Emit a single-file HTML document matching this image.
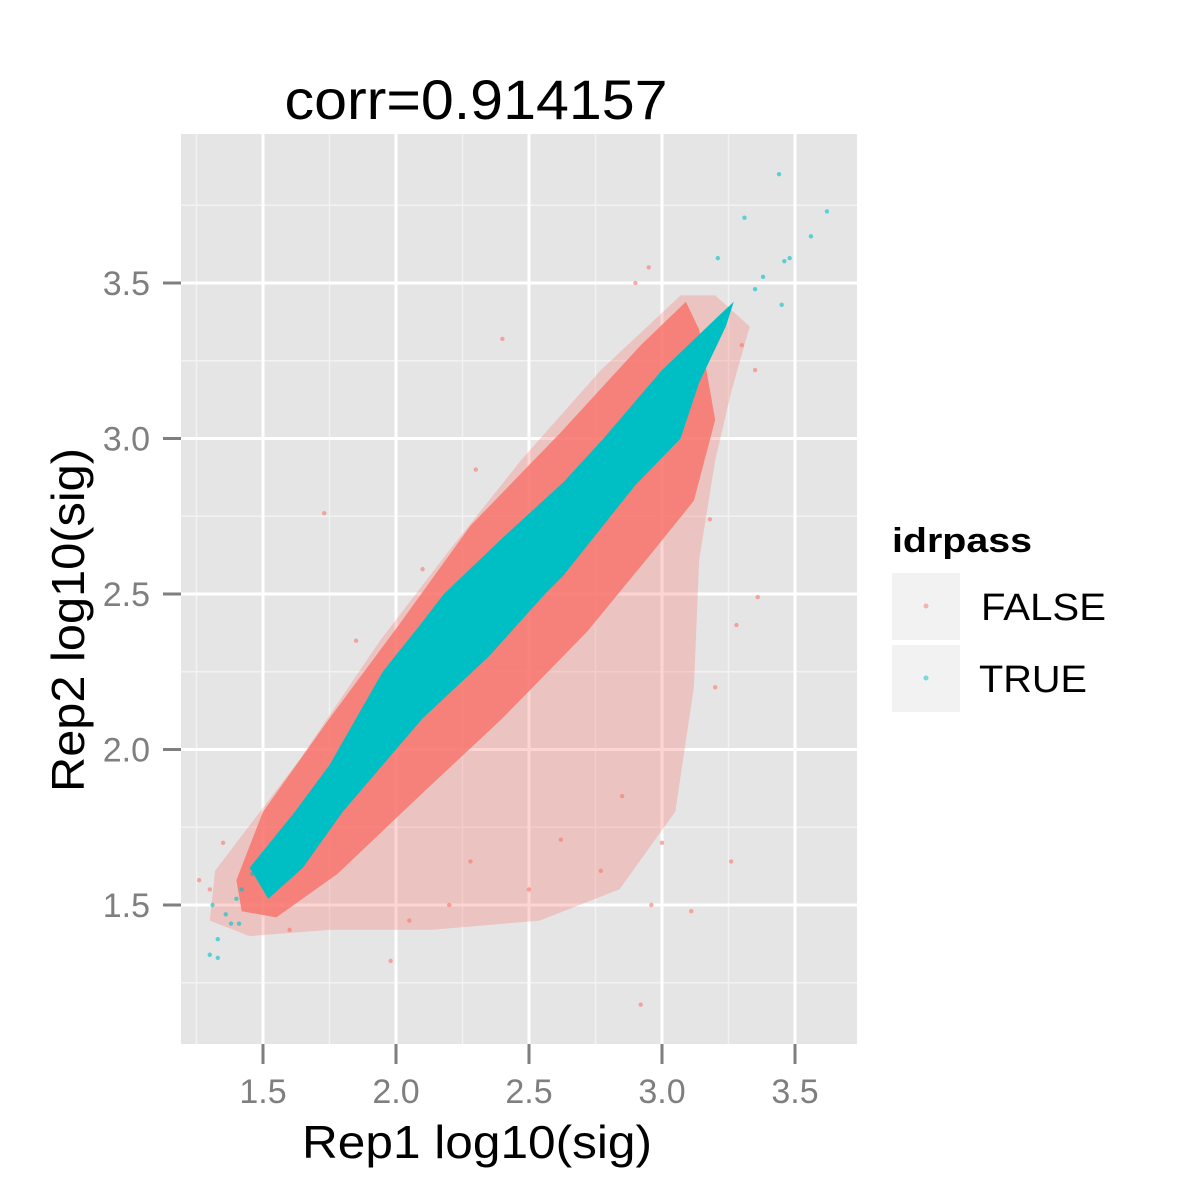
<!DOCTYPE html>
<html><head><meta charset="utf-8"><style>
html,body{margin:0;padding:0;background:#fff;}
svg{display:block;font-family:"Liberation Sans",sans-serif;}
</style></head><body>
<svg id="chart" width="1200" height="1200" viewBox="0 0 1200 1200" xmlns="http://www.w3.org/2000/svg">
<rect x="0" y="0" width="1200" height="1200" fill="#fff"/>
<g id="panel"></g>
<text x="476" y="119" font-size="56" text-anchor="middle" textLength="383" lengthAdjust="spacingAndGlyphs">corr=0.914157</text>
<text x="477" y="1158" font-size="46" text-anchor="middle" textLength="350" lengthAdjust="spacingAndGlyphs">Rep1 log10(sig)</text>
<text x="0" y="0" font-size="46" text-anchor="middle" textLength="344" lengthAdjust="spacingAndGlyphs" transform="translate(84,620) rotate(-90)">Rep2 log10(sig)</text>
<g>
<text x="892" y="552" font-size="34" font-weight="bold" textLength="140" lengthAdjust="spacingAndGlyphs">idrpass</text>
<g>
<rect x="892" y="573" width="68" height="67" fill="#f2f2f2"/>
<circle cx="926" cy="606" r="2.5" fill="#F8766D" opacity="0.5"/>
<text x="981" y="620" font-size="38" textLength="125" lengthAdjust="spacingAndGlyphs">FALSE</text>
</g>
<g>
<rect x="892" y="645" width="68" height="67" fill="#f2f2f2"/>
<circle cx="926" cy="678" r="2.5" fill="#00BFC4" opacity="0.5"/>
<text x="979" y="692" font-size="38" textLength="108" lengthAdjust="spacingAndGlyphs">TRUE</text>
</g>
</g>
</svg>
<script>
const xTicks=[1.5,2.0,2.5,3.0,3.5];
const yTicks=[1.5,2.0,2.5,3.0,3.5];
const xTickLabels=["1.5","2.0","2.5","3.0","3.5"];
const yTickLabels=["1.5","2.0","2.5","3.0","3.5"];
const xMinor=[1.25,1.75,2.25,2.75,3.25];
const yMinor=[1.25,1.75,2.25,2.75,3.25,3.75];
const falseSparse=[[1.32,1.61],[1.64,1.97],[1.94,2.35],[2.20,2.64],[2.47,2.93],[2.77,3.22],[3.07,3.46],[3.20,3.46],[3.33,3.36],[3.26,3.15],[3.20,2.93],[3.14,2.61],[3.12,2.20],[3.05,1.80],[2.84,1.55],[2.54,1.45],[2.13,1.42],[1.75,1.42],[1.45,1.40],[1.30,1.45]];
const falseDense=[[1.40,1.58],[1.50,1.80],[1.75,2.10],[2.01,2.40],[2.28,2.72],[2.62,3.02],[2.92,3.30],[3.09,3.44],[3.14,3.35],[3.20,3.06],[3.12,2.80],[2.95,2.62],[2.72,2.38],[2.40,2.10],[2.10,1.86],[1.78,1.60],[1.55,1.46],[1.42,1.48]];
const trueBand=[[1.45,1.62],[1.62,1.80],[1.75,1.95],[1.95,2.25],[2.09,2.40],[2.18,2.50],[2.40,2.68],[2.63,2.86],[2.78,3.00],[3.00,3.22],[3.22,3.40],[3.27,3.44],[3.24,3.36],[3.14,3.18],[3.07,3.00],[2.90,2.85],[2.63,2.56],[2.56,2.50],[2.35,2.30],[2.10,2.10],[2.00,2.00],[1.80,1.80],[1.65,1.62],[1.52,1.52]];
const falsePoints=[[1.73,2.76],[2.40,3.32],[3.36,2.49],[2.92,1.18],[1.98,1.32],[3.11,1.48],[2.96,1.50],[1.26,1.58],[2.28,1.64],[2.77,1.61],[2.62,1.71],[3.26,1.64],[3.18,2.74],[3.30,3.30],[3.35,3.22],[2.90,3.50],[2.95,3.55],[1.30,1.55],[1.35,1.70],[2.50,1.55],[2.20,1.50],[3.00,1.70],[2.85,1.85],[3.20,2.20],[3.28,2.40],[2.05,1.45],[1.60,1.42],[1.85,2.35],[2.10,2.58],[2.30,2.90]];
const truePoints=[[3.44,3.85],[3.31,3.71],[3.62,3.73],[3.56,3.65],[3.48,3.58],[3.46,3.57],[3.21,3.58],[3.45,3.43],[3.38,3.52],[3.35,3.48],[1.30,1.34],[1.33,1.39],[1.41,1.44],[1.31,1.50],[1.38,1.44],[1.33,1.33],[1.36,1.47],[1.42,1.55],[1.46,1.60],[1.40,1.52]];

const NS="http://www.w3.org/2000/svg";
const L=181,R=857,T=134,B=1044;
const sx=v=>263+(v-1.5)*266;
const sy=v=>905-(v-1.5)*311;
const panel=document.getElementById('panel');
const svg=document.getElementById('chart');
function mk(tag,attrs,parent){const e=document.createElementNS(NS,tag);for(const k in attrs)e.setAttribute(k,attrs[k]);(parent||panel).appendChild(e);return e;}
let bg=mk('rect',{x:L,y:T,width:R-L,height:B-T,fill:'#e5e5e5'});


xMinor.forEach(v=>{const e=mk('line',{x1:sx(v),x2:sx(v),y1:T,y2:B,stroke:'#f2f2f2','stroke-width':1.5});

});
yMinor.forEach(v=>{const e=mk('line',{x1:L,x2:R,y1:sy(v),y2:sy(v),stroke:'#f2f2f2','stroke-width':1.5});

});
xTicks.forEach(v=>{const e=mk('line',{x1:sx(v),x2:sx(v),y1:T,y2:B,stroke:'#fff','stroke-width':3});

});
yTicks.forEach(v=>{const e=mk('line',{x1:L,x2:R,y1:sy(v),y2:sy(v),stroke:'#fff','stroke-width':3});

});
const poly=(arr)=>arr.map(p=>sx(p[0]).toFixed(1)+','+sy(p[1]).toFixed(1)).join(' ');
let p1=mk('polygon',{points:poly(falseSparse),fill:'#F8766D',opacity:0.3,'stroke-linejoin':'round'});


let p2=mk('polygon',{points:poly(falseDense),fill:'#F8766D',opacity:0.85,'stroke-linejoin':'round'});


falsePoints.forEach(p=>{const c=mk('circle',{cx:sx(p[0]),cy:sy(p[1]),r:2.2,fill:'#F8766D',opacity:0.6});

});
let p3=mk('polygon',{points:poly(trueBand),fill:'#00BFC4','stroke-linejoin':'round'});


truePoints.forEach(p=>{const c=mk('circle',{cx:sx(p[0]),cy:sy(p[1]),r:2.2,fill:'#00BFC4',opacity:0.6});

});
xTicks.forEach((v,i)=>{const t=mk('line',{x1:sx(v),x2:sx(v),y1:B,y2:B+20,stroke:'#7f7f7f','stroke-width':3},svg);


const l=mk('text',{x:sx(v),y:1103,'font-size':34,'text-anchor':'middle',fill:'#7f7f7f'},svg);l.textContent=xTickLabels[i];

});
yTicks.forEach((v,i)=>{const t=mk('line',{x1:163,x2:L,y1:sy(v),y2:sy(v),stroke:'#7f7f7f','stroke-width':3},svg);


const l=mk('text',{x:150,y:sy(v)+12,'font-size':34,'text-anchor':'end',fill:'#7f7f7f'},svg);l.textContent=yTickLabels[i];

});
</script>
</body></html>
